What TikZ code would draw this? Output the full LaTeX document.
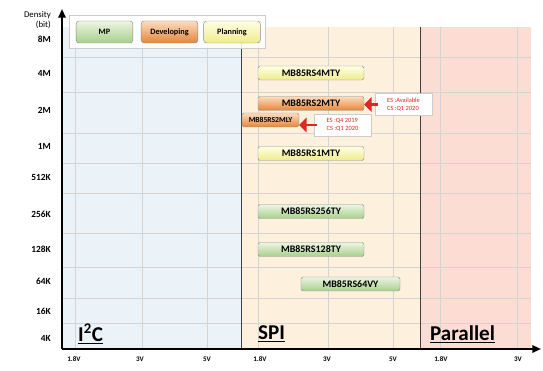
\documentclass[tikz,border=0pt]{standalone}
\usepackage{fontspec}
\setmainfont{Carlito}
\usetikzlibrary{arrows.meta,positioning}
\definecolor{fjGreenT}{RGB}{236,245,226}
\definecolor{fjGreenB}{RGB}{168,207,140}
\definecolor{fjOrangeT}{RGB}{252,220,190}
\definecolor{fjOrangeB}{RGB}{226,134,60}
\definecolor{fjYellowT}{RGB}{255,255,228}
\definecolor{fjYellowB}{RGB}{238,236,140}
\definecolor{fjRed}{RGB}{222,40,36}
\definecolor{zoneBlue}{RGB}{235,243,249}
\definecolor{zoneSand}{RGB}{253,241,222}
\definecolor{zonePink}{RGB}{251,221,211}

\begin{document}
\begin{tikzpicture}[x=0.3mm,y=-0.3mm,
      grid/.style={draw=black!17,line width=0.4pt},
      bar/.style={draw=black!45,rounded corners=1.5pt,minimum height=4.2mm,minimum width=31.8mm,
                  inner sep=0pt,font=\bfseries\fontsize{8.5}{9}\selectfont},
      mp/.style={bar,top color=fjGreenT,bottom color=fjGreenB},
      dev/.style={bar,top color=fjOrangeT,bottom color=fjOrangeB},
      plan/.style={bar,top color=fjYellowT,bottom color=fjYellowB},
      key/.style={minimum width=17mm,minimum height=6.6mm,rounded corners=2.5pt,font=\bfseries\fontsize{7}{8}\selectfont},
      note/.style={draw=black!20,fill=white,align=left,text=fjRed,inner sep=2pt,
                   minimum width=17mm,minimum height=6.6mm,font=\fontsize{5.5}{6.5}\selectfont},
      redarr/.style={-{Triangle[length=2.2mm,width=4.4mm]},line width=2.4pt,draw=fjRed},
      lab/.style={anchor=east,font=\bfseries\fontsize{8}{9}\selectfont},
      tick/.style={font=\bfseries\fontsize{6}{7}\selectfont},
      bus/.style={anchor=west,font=\bfseries\fontsize{18}{20}\selectfont},
      axis/.style={-{Triangle[length=2.6mm,width=2.2mm]},line width=1.6pt}]
    \useasboundingbox (0,0) rectangle (543,371);
    % interface zones
    \fill[zoneBlue] (62,27) rectangle (241,349);
    \fill[zoneSand] (241,27) rectangle (420,349);
    \fill[zonePink] (420,27) rectangle (531,349);
    \foreach \y in {57,92,133,163,193,233,267,298,323} \draw[grid] (62,\y) -- (531,\y);
    \foreach \x in {75,142,207,258,328,393,440,517} \draw[grid] (\x,27) -- (\x,349);
    \draw[black!75,line width=0.8pt] (241,27) -- (241,349);
    \draw[black!75,line width=0.8pt] (420,27) -- (420,349);
    % legend
    \node[draw=black!20,fill=white,fill opacity=0.85,minimum width=58.8mm,minimum height=9.9mm] (leg) at (167,31.5) {};
    \node[key,draw=black!45,top color=fjGreenT,bottom color=fjGreenB] (kmp) at (104.5,32) {MP};
    \node[key,draw=black!45,top color=fjOrangeT,bottom color=fjOrangeB] (kdev) at (169.5,32) {Developing};
    \node[key,draw=black!45,top color=fjYellowT,bottom color=fjYellowB] (kplan) at (232,32) {Planning};
    % products
    \node[plan] (p4m) at (311,73) {MB85RS4MTY};
    \node[dev] (p2m) at (311,103.5) {MB85RS2MTY};
    \node[dev,minimum width=17.1mm,font=\bfseries\fontsize{6.5}{7}\selectfont] (p2ml) at (270.5,120) {MB85RS2MLY};
    \node[plan] (p1m) at (311,153.5) {MB85RS1MTY};
    \node[mp] (p256) at (311,211.5) {MB85RS256TY};
    \node[mp] (p128) at (311,249.5) {MB85RS128TY};
    \node[mp,minimum width=29.7mm] (p64) at (350.5,284) {MB85RS64VY};
    % sample dates
    \node[note] (n2m) at (403.5,104.5) {ES :Available\\CS :Q1 2020};
    \node[note] (n2ml) at (342.5,125) {ES :Q4 2019\\CS :Q1 2020};
    \draw[redarr] ([xshift=1mm]n2m.west) -- (n2m.west -| p2m.east);
    \draw[redarr] ([xshift=1mm]n2ml.west) -- (n2ml.west -| p2ml.east);
    % axes
    \coordinate (o) at (62,349);
    \coordinate (ytop) at (62,9);
    \coordinate (xend) at (541,349);
    \draw[axis] (o) -- (ytop);
    \draw[axis] (o) -- (xend);
    \node[anchor=east,align=right,font=\fontsize{7.5}{9}\selectfont] (ttl) at (55,20) {Density\\(bit)};
    \node[lab] (l8m) at (55,39) {8M};
    \node[lab] (l4m) at (55,73) {4M};
    \node[lab] (l2m) at (55,110) {2M};
    \node[lab] (l1m) at (55,146) {1M};
    \node[lab] (l512) at (55,177) {512K};
    \node[lab] (l256) at (55,214) {256K};
    \node[lab] (l128) at (55,249) {128K};
    \node[lab] (l64) at (55,281) {64K};
    \node[lab] (l16) at (55,311) {16K};
    \node[lab] (l4k) at (55,338) {4K};
    \node[tick] (t1) at (74,359) {1.8V};
    \node[tick] (t2) at (140,359) {3V};
    \node[tick] (t3) at (207,359) {5V};
    \node[tick] (t4) at (260,359) {1.8V};
    \node[tick] (t5) at (327,359) {3V};
    \node[tick] (t6) at (393,359) {5V};
    \node[tick] (t7) at (441,359) {1.8V};
    \node[tick] (t8) at (518,359) {3V};
    \node[bus] (i2c) at (74,334) {\underline{I\textsuperscript{2}C}};
    \node[bus] (spi) at (254,334) {\underline{SPI}};
    \node[bus] (par) at (426,334) {\underline{Parallel}};
  \end{tikzpicture}
\end{document}
